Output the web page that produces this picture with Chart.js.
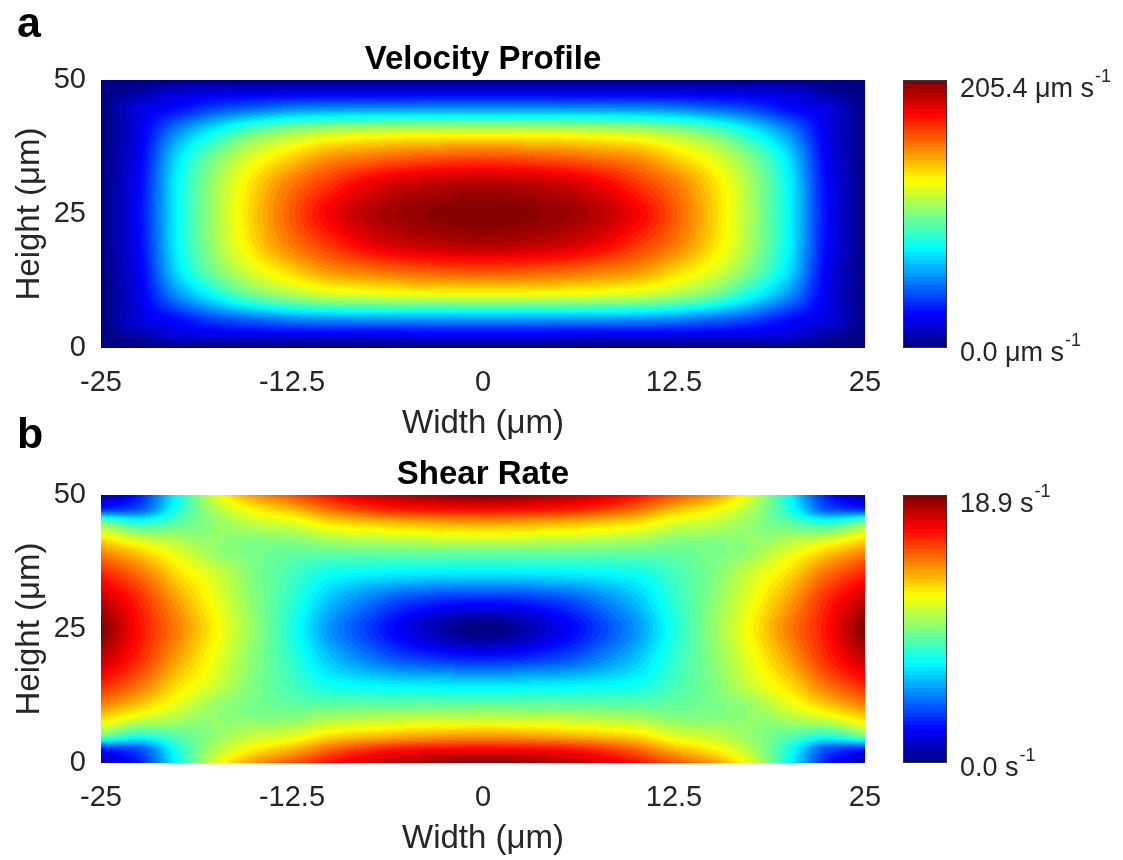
<!DOCTYPE html>
<html><head><meta charset="utf-8">
<script src="https://cdn.jsdelivr.net/npm/chart.js@4.4.1/dist/chart.umd.min.js"></script>
<style>
html,body{margin:0;padding:0;background:#fff;width:1123px;height:860px;overflow:hidden;}
.wrap{position:absolute;left:0;width:1123px;height:440px;}
.panel{position:absolute;left:17px;font:bold 43px "Liberation Sans",Arial,sans-serif;line-height:43px;color:#000;}
</style></head><body>
<div class="wrap" style="top:0"><canvas id="c1" width="1123" height="440" style="width:1123px;height:440px"></canvas></div>
<div class="wrap" style="top:415px"><canvas id="c2" width="1123" height="440" style="width:1123px;height:440px"></canvas></div>
<div class="panel" style="top:1px">a</div>
<div class="panel" style="top:412px">b</div>
<script>
// ---------------- data ----------------
const widthUm  = [-25,-22.5,-20,-17.5,-15,-12.5,-10,-7.5,-5,0,5,7.5,10,12.5,15,17.5,20,22.5,25];
const heightUm = [0,2.5,5,10,15,20,25,30,35,40,45,47.5,50];
const xTickValues = [-25,-12.5,0,12.5,25];
const xTickLabels = ['-25','-12.5','0','12.5','25'];
const yTickValues = [0,25,50];
const yTickLabels = ['0','25','50'];
const velocityRange = [0, 205.4];
const shearRange = [0, 18.9];
const velocityBarLabels = ['205.4 μm s', '0.0 μm s'];
const shearBarLabels = ['18.9 s', '0.0 s'];
const unitExponent = '-1';

// velocity (μm/s): rows follow heightUm, columns follow widthUm
const velocity = [
  [0,0,0,0,0,0,0,0,0,0,0,0,0,0,0,0,0,0,0],
  [0,8.2,18.1,20.4,21.5,22.3,22.6,22.7,22.8,22.9,22.8,22.7,22.6,22.3,21.5,20.4,18.1,8.2,0],
  [0,18.4,26.0,37.0,43.0,48.5,50.8,51.4,51.6,51.8,51.6,51.4,50.8,48.5,43.0,37.0,26.0,18.4,0],
  [0,21.0,55.5,80.0,100.0,111.5,119.1,122.2,124.3,125.3,124.3,122.2,119.1,111.5,100.0,80.0,55.5,21.0,0],
  [0,23.6,72.0,103.0,124.5,139.7,153.0,159.2,164.3,168.4,164.3,159.2,153.0,139.7,124.5,103.0,72.0,23.6,0],
  [0,26.1,76.6,110.1,136.0,157.1,171.5,184.9,192.0,197.2,192.0,184.9,171.5,157.1,136.0,110.1,76.6,26.1,0],
  [0,26.7,77.0,110.9,138.6,162.3,181.8,194.1,200.3,205.4,200.3,194.1,181.8,162.3,138.6,110.9,77.0,26.7,0],
  [0,26.1,76.6,110.1,136.0,157.1,171.5,184.9,192.0,197.2,192.0,184.9,171.5,157.1,136.0,110.1,76.6,26.1,0],
  [0,23.6,72.0,103.0,124.5,139.7,153.0,159.2,164.3,168.4,164.3,159.2,153.0,139.7,124.5,103.0,72.0,23.6,0],
  [0,21.0,55.5,80.0,100.0,111.5,119.1,122.2,124.3,125.3,124.3,122.2,119.1,111.5,100.0,80.0,55.5,21.0,0],
  [0,18.4,26.0,37.0,43.0,48.5,50.8,51.4,51.6,51.8,51.6,51.4,50.8,48.5,43.0,37.0,26.0,18.4,0],
  [0,8.2,18.1,20.4,21.5,22.3,22.6,22.7,22.8,22.9,22.8,22.7,22.6,22.3,21.5,20.4,18.1,8.2,0],
  [0,0,0,0,0,0,0,0,0,0,0,0,0,0,0,0,0,0,0]
];

// shear rate (1/s): rows follow heightUm, columns follow widthUm
const shearRate = [
  [0.6,2.8,7.2,11.3,13.8,15.1,16.4,17.4,18.1,18.9,18.1,17.4,16.4,15.1,13.8,11.3,7.2,2.8,0.6],
  [2.8,3.8,7.6,10.4,12.1,13.2,14.7,15.7,16.3,16.6,16.3,15.7,14.7,13.2,12.1,10.4,7.6,3.8,2.8],
  [9.1,7.6,8.7,9.8,10.8,11.3,12.5,13.0,13.4,13.8,13.4,13.0,12.5,11.3,10.8,9.8,8.7,7.6,9.1],
  [13.6,12.3,11.0,9.8,9.3,9.1,9.3,9.4,9.5,9.6,9.5,9.4,9.3,9.1,9.3,9.8,11.0,12.3,13.6],
  [16.1,14.6,12.5,11.0,9.4,8.3,7.2,6.8,6.6,6.4,6.6,6.8,7.2,8.3,9.4,11.0,12.5,14.6,16.1],
  [17.8,15.9,13.6,11.5,9.6,7.9,5.9,4.5,3.4,2.6,3.4,4.5,5.9,7.9,9.6,11.5,13.6,15.9,17.8],
  [18.9,16.3,14.2,11.9,9.8,7.6,5.1,3.4,1.9,0.0,1.9,3.4,5.1,7.6,9.8,11.9,14.2,16.3,18.9],
  [17.8,15.9,13.6,11.5,9.6,7.9,5.9,4.5,3.4,2.6,3.4,4.5,5.9,7.9,9.6,11.5,13.6,15.9,17.8],
  [16.1,14.6,12.5,11.0,9.4,8.3,7.2,6.8,6.6,6.4,6.6,6.8,7.2,8.3,9.4,11.0,12.5,14.6,16.1],
  [13.6,12.3,11.0,9.8,9.3,9.1,9.3,9.4,9.5,9.6,9.5,9.4,9.3,9.1,9.3,9.8,11.0,12.3,13.6],
  [9.1,7.6,8.7,9.8,10.8,11.3,12.5,13.0,13.4,13.8,13.4,13.0,12.5,11.3,10.8,9.8,8.7,7.6,9.1],
  [2.8,3.8,7.6,10.4,12.1,13.2,14.7,15.7,16.3,16.6,16.3,15.7,14.7,13.2,12.1,10.4,7.6,3.8,2.8],
  [0.6,2.8,7.2,11.3,13.8,15.1,16.4,17.4,18.1,18.9,18.1,17.4,16.4,15.1,13.8,11.3,7.2,2.8,0.6]
];

// ---------------- rendering ----------------
const FONT = '"Liberation Sans", Arial, Helvetica, sans-serif';
const TXT = '#262626';
Chart.defaults.font.family = FONT;

function clamp01(v){ return v < 0 ? 0 : (v > 1 ? 1 : v); }
function jetRGB(t){
  t = clamp01(t);
  let i = Math.floor(t * 64); if (i > 63) i = 63;
  const u = (i + 0.5) / 64;
  return [clamp01(1.5 - Math.abs(4*u - 3)) * 255,
          clamp01(1.5 - Math.abs(4*u - 2)) * 255,
          clamp01(1.5 - Math.abs(4*u - 1)) * 255];
}
function locate(arr, v){
  const n = arr.length;
  let i = 0;
  while (i < n - 2 && v > arr[i+1]) i++;
  return i;
}
// shape-preserving (pchip-style) slopes for smooth shading between grid nodes
function pchipSlopes(xs, ys){
  const n = xs.length, d = [], m = new Array(n);
  for (let k = 0; k < n - 1; k++) d.push((ys[k+1] - ys[k]) / (xs[k+1] - xs[k]));
  m[0] = d[0]; m[n-1] = d[n-2];
  for (let k = 1; k < n - 1; k++){
    if (d[k-1] * d[k] <= 0) { m[k] = 0; continue; }
    const h0 = xs[k] - xs[k-1], h1 = xs[k+1] - xs[k];
    const w1 = 2*h1 + h0, w2 = h1 + 2*h0;
    m[k] = (w1 + w2) / (w1 / d[k-1] + w2 / d[k]);
  }
  return m;
}
function hermite(xs, ys, ms, k, x){
  const h = xs[k+1] - xs[k], t = (x - xs[k]) / h, t2 = t*t, t3 = t2*t;
  return (2*t3 - 3*t2 + 1) * ys[k] + (t3 - 2*t2 + t) * h * ms[k]
       + (-2*t3 + 3*t2) * ys[k+1] + (t3 - t2) * h * ms[k+1];
}

const heatmapPlugin = {
  id: 'heatmap',
  beforeDatasetsDraw(chart){
    const ds = chart.data.datasets[0];
    const xs = ds.gridX, ys = ds.gridY, z = ds.gridZ, lo = ds.range[0], hi = ds.range[1];
    const ctx = chart.ctx, a = chart.chartArea, sx = chart.scales.x, sy = chart.scales.y;
    const L = Math.round(a.left), T = Math.round(a.top);
    const W = Math.round(a.right) - L, H = Math.round(a.bottom) - T;
    const img = ctx.createImageData(W, H);
    const xv = [], kx = [], yv = [], ky = [];
    for (let c = 0; c < W; c++){
      const v = Math.min(xs[xs.length-1], Math.max(xs[0], sx.getValueForPixel(L + c + 0.5)));
      xv.push(v); kx.push(locate(xs, v));
    }
    for (let r = 0; r < H; r++){
      const v = Math.min(ys[ys.length-1], Math.max(ys[0], sy.getValueForPixel(T + r + 0.5)));
      yv.push(v); ky.push(locate(ys, v));
    }
    const rowVals = z.map(row => {
      const ms = pchipSlopes(xs, row);
      return xv.map((x, c) => hermite(xs, row, ms, kx[c], x));
    });
    for (let c = 0; c < W; c++){
      const col = rowVals.map(rv => rv[c]);
      const ms = pchipSlopes(ys, col);
      for (let r = 0; r < H; r++){
        const v = hermite(ys, col, ms, ky[r], yv[r]);
        const rgb = jetRGB((v - lo) / (hi - lo));
        const p = (r * W + c) * 4;
        img.data[p] = rgb[0]; img.data[p+1] = rgb[1]; img.data[p+2] = rgb[2]; img.data[p+3] = 255;
      }
    }
    ctx.putImageData(img, L, T);
  }
};

function drawBarLabel(ctx, main, sup, x, y){
  ctx.save();
  ctx.fillStyle = TXT;
  ctx.textBaseline = 'middle';
  ctx.textAlign = 'left';
  ctx.font = '27px ' + FONT;
  ctx.fillText(main, x, y);
  const w = ctx.measureText(main).width;
  ctx.font = '18px ' + FONT;
  ctx.fillText(sup, x + w + 1, y - 13);
  ctx.restore();
}

const colorbarPlugin = {
  id: 'colorbar',
  afterDraw(chart, args, opts){
    const ctx = chart.ctx, a = chart.chartArea;
    const x0 = Math.round(a.right) + 38, w = 44;
    const top = Math.round(a.top), bot = Math.round(a.bottom), h = bot - top;
    ctx.save();
    for (let r = 0; r < h; r++){
      const c = jetRGB(1 - (r + 0.5) / h);
      ctx.fillStyle = 'rgb(' + (c[0]|0) + ',' + (c[1]|0) + ',' + (c[2]|0) + ')';
      ctx.fillRect(x0, top + r, w, 1);
    }
    ctx.strokeStyle = '#333';
    ctx.lineWidth = 1;
    ctx.strokeRect(x0 + 0.5, top + 0.5, w - 1, h - 1);
    ctx.restore();
    drawBarLabel(ctx, opts.labels[0], unitExponent, x0 + w + 13, top + 10);
    drawBarLabel(ctx, opts.labels[1], unitExponent, x0 + w + 13, bot + 6);
  }
};

function makeChart(id, title, grid, range, barLabels){
  const points = [];
  heightUm.forEach((yv, j) => widthUm.forEach((xv, i) => points.push({x: xv, y: yv, v: grid[j][i]})));
  return new Chart(document.getElementById(id), {
    type: 'scatter',
    data: { datasets: [{
      data: points, pointRadius: 0, pointHoverRadius: 0, showLine: false,
      gridX: widthUm, gridY: heightUm, gridZ: grid, range: range
    }]},
    options: {
      responsive: false, animation: false, devicePixelRatio: 1,
      events: [],
      layout: { padding: { left: 0, right: 258, top: 0, bottom: 0 } },
      plugins: {
        legend: { display: false },
        tooltip: { enabled: false },
        title: { display: true, text: title, fullSize: false, color: '#000',
                 font: { size: 33, weight: 'bold', family: FONT, lineHeight: 1.2 },
                 padding: { top: 40.2, bottom: 0.2 } },
        colorbar: { labels: barLabels }
      },
      scales: {
        x: {
          type: 'linear', min: -25, max: 25,
          afterBuildTicks: s => { s.ticks = xTickValues.map(v => ({ value: v })); },
          afterFit: s => { s.height = 92; },
          ticks: { autoSkip: false, maxRotation: 0, padding: 17.6, color: TXT,
                   font: { size: 29, family: FONT, lineHeight: 1.2 },
                   callback: (v, i) => xTickLabels[i] },
          grid: { display: false, drawTicks: false },
          border: { display: false },
          title: { display: true, text: 'Width (μm)', color: TXT,
                   font: { size: 33, family: FONT, lineHeight: 1 },
                   padding: { top: 0, bottom: 0 } }
        },
        y: {
          type: 'linear', min: 0, max: 50,
          afterBuildTicks: s => { s.ticks = yTickValues.map(v => ({ value: v })); },
          afterFit: s => { s.width = 101; },
          ticks: { autoSkip: false, padding: 15, color: TXT,
                   font: { size: 29, family: FONT, lineHeight: 1.2 },
                   callback: (v, i) => yTickLabels[i] },
          grid: { display: false, drawTicks: false },
          border: { display: false },
          title: { display: true, text: 'Height (μm)', color: TXT,
                   font: { size: 33, family: FONT, lineHeight: 1 },
                   padding: { top: 13.5, bottom: 0 } }
        }
      }
    },
    plugins: [heatmapPlugin, colorbarPlugin]
  });
}

makeChart('c1', 'Velocity Profile', velocity, velocityRange, velocityBarLabels);
makeChart('c2', 'Shear Rate', shearRate, shearRange, shearBarLabels);
</script></body></html>
